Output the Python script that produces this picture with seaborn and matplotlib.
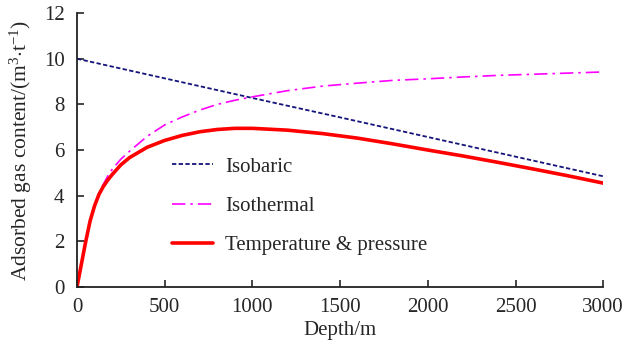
import matplotlib
matplotlib.use('Agg')
import matplotlib.pyplot as plt
import seaborn as sns

# Depth (m) and adsorbed gas content (m3/t)
isobaric_depth = [0, 500, 1000, 1500, 2000, 2500, 3000]
isobaric_gas = [10.0, 9.14, 8.28, 7.43, 6.57, 5.71, 4.85]

isothermal_depth = [0, 25, 50, 75, 100, 125, 150, 175, 200, 250, 300, 400, 500, 600,
                    700, 800, 900, 1000, 1200, 1400, 1600, 1800, 2000, 2200, 2400,
                    2600, 2800, 3000]
isothermal_gas = [0, 1.0, 2.0, 2.9, 3.6, 4.1, 4.5, 4.85, 5.15, 5.6, 5.95, 6.6, 7.1, 7.45,
                  7.75, 8.0, 8.18, 8.33, 8.6, 8.8, 8.93, 9.05, 9.12, 9.2, 9.27,
                  9.32, 9.37, 9.42]

tp_depth = [0, 25, 50, 75, 100, 125, 150, 175, 200, 250, 300, 400, 500, 600,
            700, 800, 900, 1000, 1200, 1400, 1600, 1800, 2000, 2200, 2400,
            2600, 2800, 3000]
tp_gas = [0, 1.0, 2.0, 2.9, 3.55, 4.05, 4.4, 4.68, 4.92, 5.35, 5.67, 6.12, 6.42, 6.64,
          6.8, 6.9, 6.95, 6.95, 6.87, 6.72, 6.52, 6.27, 6.0, 5.74, 5.46,
          5.17, 4.87, 4.55]

sns.set_style('ticks')
plt.rcParams['font.family'] = ['Liberation Serif', 'DejaVu Serif']
plt.rcParams['mathtext.fontset'] = 'custom'
plt.rcParams['mathtext.rm'] = 'Liberation Serif'
plt.rcParams['mathtext.it'] = 'Liberation Serif:italic'

fig = plt.figure(figsize=(6.31, 3.53), dpi=100)
ax = fig.add_axes([0.122, 0.187, 0.834, 0.776])

sns.lineplot(x=isobaric_depth, y=isobaric_gas, ax=ax, color='#14147a',
             linestyle=(0, (2.4, 1.3)), linewidth=1.3, label='Isobaric')
sns.lineplot(x=isothermal_depth, y=isothermal_gas, ax=ax, color='#ff00ff',
             linestyle=(0, (8, 3, 1.5, 3)), linewidth=1.2, label='Isothermal')
sns.lineplot(x=tp_depth, y=tp_gas, ax=ax, color='#ff0000',
             linewidth=2.6, label='Temperature & pressure')

ax.set_xlim(0, 3000)
ax.set_ylim(0, 12)
ax.set_xticks(range(0, 3001, 500))
ax.set_yticks(range(0, 13, 2))
ax.tick_params(direction='in', length=5, width=1.2, labelsize=15)
ax.tick_params(axis='y', pad=9)
ax.tick_params(axis='x', pad=8)
for side in ['left', 'bottom']:
    ax.spines[side].set_linewidth(1.3)
    ax.spines[side].set_color('#222222')
sns.despine(ax=ax)

ax.set_xlabel('Depth/m', fontsize=15, labelpad=3)
ax.set_ylabel('Adsorbed gas content/(m$^{3}$$\\cdot$t$^{-1}$)', fontsize=15.5, labelpad=7)

ax.legend(loc='upper left', bbox_to_anchor=(0.18, 0.474), frameon=False, fontsize=15,
          handlelength=2.0, handletextpad=0.55, labelspacing=0.95,
          borderpad=0, borderaxespad=0)

fig.savefig('out.png', dpi=100)
